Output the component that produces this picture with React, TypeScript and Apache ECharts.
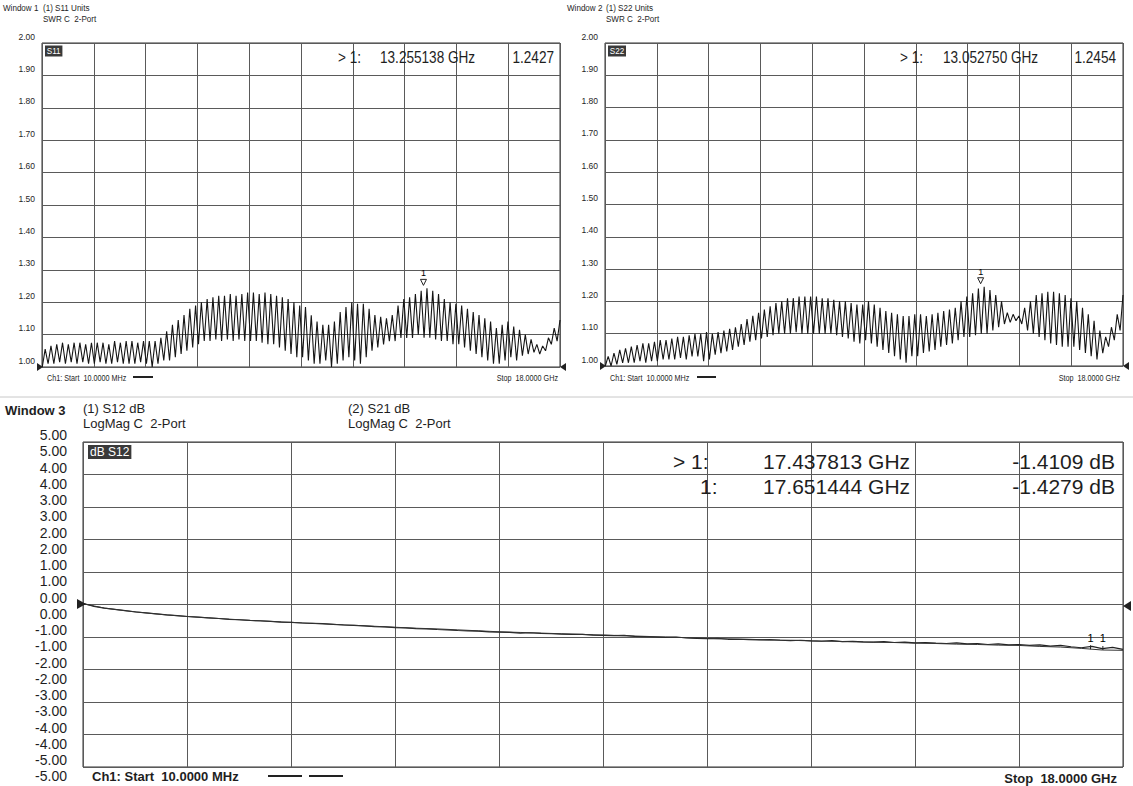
import React, { useEffect, useRef } from "react";
import * as echarts from "echarts";

// ---- Sweep settings (GHz) ----
const START_GHZ = 0.01;
const STOP_GHZ = 18;

// ---- Window 1: S11 SWR, per-cycle peaks and troughs ----
const s11Peaks = [
  1.055, 1.065, 1.07, 1.075, 1.07, 1.075, 1.075, 1.07, 1.075,
  1.075, 1.075, 1.07, 1.08, 1.075, 1.08, 1.08, 1.075, 1.08,
  1.08, 1.08, 1.09, 1.11, 1.13, 1.145, 1.16, 1.18, 1.19,
  1.2, 1.21, 1.215, 1.22, 1.22, 1.225, 1.22, 1.225, 1.23,
  1.23, 1.225, 1.23, 1.225, 1.22, 1.215, 1.21, 1.2, 1.19,
  1.185, 1.16, 1.14, 1.13, 1.13, 1.14, 1.17, 1.185, 1.2,
  1.195, 1.195, 1.18, 1.16, 1.155, 1.15, 1.16, 1.19, 1.21,
  1.215, 1.225, 1.235, 1.243, 1.235, 1.225, 1.21, 1.2, 1.195,
  1.19, 1.18, 1.17, 1.16, 1.15, 1.14, 1.12, 1.13, 1.14,
  1.125, 1.115, 1.1, 1.085, 1.07, 1.065, 1.09, 1.12, 1.145,
];
const s11Troughs = [
  1.0, 1.01, 1.01, 1.015, 1.01, 1.015, 1.01, 1.015, 1.01,
  1.01, 1.015, 1.01, 1.01, 1.015, 1.01, 1.01, 1.01, 1.015,
  1.01, 1.0, 1.01, 1.02, 1.02, 1.03, 1.04, 1.05, 1.06,
  1.07, 1.08, 1.08, 1.085, 1.08, 1.085, 1.08, 1.085, 1.08,
  1.08, 1.08, 1.075, 1.07, 1.07, 1.06, 1.05, 1.04, 1.03,
  1.03, 1.02, 1.01, 1.01, 1.02, 1.0, 1.01, 1.02, 1.03,
  1.02, 1.01, 1.03, 1.05, 1.06, 1.07, 1.08, 1.08, 1.09,
  1.09, 1.09, 1.1, 1.09, 1.09, 1.085, 1.08, 1.08, 1.07,
  1.07, 1.06, 1.05, 1.04, 1.03, 1.02, 1.01, 1.01, 1.02,
  1.03, 1.02, 1.035, 1.04, 1.045, 1.04, 1.05, 1.07, 1.08,
];

// ---- Window 2: S22 SWR ----
const s22Peaks = [
  1.03, 1.04, 1.05, 1.055, 1.06, 1.065, 1.07, 1.07, 1.075,
  1.08, 1.08, 1.085, 1.09, 1.09, 1.095, 1.1, 1.1, 1.105,
  1.1, 1.105, 1.11, 1.115, 1.12, 1.13, 1.145, 1.155, 1.165,
  1.175, 1.185, 1.195, 1.2, 1.21, 1.21, 1.215, 1.215, 1.215,
  1.215, 1.21, 1.21, 1.205, 1.2, 1.2, 1.195, 1.19, 1.19,
  1.2, 1.19, 1.18, 1.17, 1.165, 1.16, 1.155, 1.155, 1.16,
  1.16, 1.155, 1.16, 1.165, 1.17, 1.175, 1.18, 1.2, 1.215,
  1.225, 1.24, 1.245, 1.235, 1.22, 1.2, 1.165, 1.16, 1.155,
  1.18, 1.2, 1.22, 1.225, 1.23, 1.23, 1.225, 1.22, 1.21,
  1.2, 1.18, 1.16, 1.14, 1.11, 1.09, 1.12, 1.16, 1.22,
];
const s22Troughs = [
  1.0, 1.0, 1.005, 1.01, 1.01, 1.01, 1.015, 1.01, 1.015,
  1.015, 1.02, 1.02, 1.02, 1.025, 1.02, 1.03, 1.03, 1.015,
  1.02, 1.035, 1.04, 1.045, 1.05, 1.06, 1.065, 1.075, 1.08,
  1.085, 1.09, 1.095, 1.1, 1.1, 1.1, 1.105, 1.1, 1.1,
  1.1, 1.1, 1.1, 1.1, 1.095, 1.09, 1.085, 1.075, 1.07,
  1.08, 1.07, 1.06, 1.05, 1.04, 1.03, 1.02, 1.01, 1.03,
  1.03, 1.04, 1.045, 1.05, 1.06, 1.065, 1.07, 1.08, 1.09,
  1.09, 1.095, 1.1, 1.1, 1.11, 1.12, 1.13, 1.135, 1.14,
  1.13, 1.11, 1.1, 1.09, 1.08, 1.07, 1.065, 1.06, 1.06,
  1.06, 1.05, 1.04, 1.03, 1.02, 1.04, 1.06, 1.08, 1.11,
];

// ---- Window 3: S12 / S21 LogMag (dB) ----
const s12Db = [
  0.03, -0.06, -0.11, -0.15, -0.19, -0.23, -0.26, -0.29, -0.32, -0.34,
  -0.37, -0.39, -0.41, -0.43, -0.46, -0.47, -0.49, -0.5, -0.52, -0.54,
  -0.55, -0.57, -0.58, -0.59, -0.61, -0.63, -0.64, -0.66, -0.68, -0.69,
  -0.71, -0.72, -0.74, -0.75, -0.77, -0.78, -0.8, -0.81, -0.82, -0.84,
  -0.85, -0.86, -0.88, -0.87, -0.89, -0.9, -0.91, -0.92, -0.92, -0.94,
  -0.95, -0.96, -0.95, -0.98, -0.99, -1.0, -1.01, -1.0, -1.03, -1.04,
  -1.05, -1.04, -1.07, -1.07, -1.08, -1.09, -1.08, -1.1, -1.11, -1.1,
  -1.12, -1.13, -1.11, -1.14, -1.13, -1.15, -1.16, -1.14, -1.17, -1.16,
  -1.18, -1.17, -1.19, -1.2, -1.18, -1.21, -1.2, -1.23, -1.21, -1.24,
  -1.23, -1.26, -1.24, -1.28, -1.26, -1.3, -1.33, -1.29, -1.36, -1.32,
  -1.38,
];
const s21Db = [
  0.02, -0.11, -0.19, -0.26, -0.32, -0.37, -0.41, -0.45, -0.49, -0.52,
  -0.55, -0.58, -0.61, -0.64, -0.67, -0.7, -0.73, -0.75, -0.78, -0.81,
  -0.84, -0.86, -0.88, -0.9, -0.92, -0.94, -0.96, -0.98, -1.0, -1.02,
  -1.04, -1.06, -1.07, -1.09, -1.1, -1.12, -1.13, -1.15, -1.16, -1.17,
  -1.19, -1.2, -1.22, -1.23, -1.25, -1.26, -1.29, -1.31, -1.35, -1.4,
  -1.41,
];

// ---- Markers ----
const s11Marker = [13.255138, 1.2427];
const s22Marker = [13.05275, 1.2454];
const s12Marker = [17.437813, -1.4109];
const s21Marker = [17.651444, -1.4279];

const swrTicks = { min: 1, max: 2, interval: 0.1 };
const dbTicks = { min: -5, max: 5, interval: 1 };

function interleave(troughs: number[], peaks: number[]) {
  const out: number[] = [];
  troughs.forEach((t, i) => {
    out.push(t, peaks[i]);
  });
  return out;
}
function sweep(values: number[]) {
  return values.map((v, i) => [
    START_GHZ + (i * (STOP_GHZ - START_GHZ)) / (values.length - 1),
    v,
  ]);
}

const NARROW = "'Liberation Sans', Arial, sans-serif";
const INK = "#1e1e1e";

function txt(
  text: string,
  x: number,
  y: number,
  size: number,
  opts: any = {}
) {
  return {
    type: "text",
    x,
    y,
    scaleX: opts.scaleX ?? 1,
    z: 10,
    style: {
      text,
      fontSize: size,
      fontFamily: NARROW,
      fontWeight: opts.weight ?? "normal",
      fill: opts.fill ?? INK,
      align: opts.align ?? "left",
      verticalAlign: "middle",
      backgroundColor: opts.bg,
      padding: opts.padding,
    },
  };
}
function tri(points: number[][]) {
  return {
    type: "polygon",
    z: 10,
    shape: { points },
    style: { fill: "#222" },
  };
}

export default function App() {
  const ref = useRef<HTMLDivElement>(null);

  useEffect(() => {
    if (!ref.current) return;
    const chart = echarts.init(ref.current, undefined, { renderer: "svg" });

    const gridLine = { show: true, lineStyle: { color: "#5a5a5a", width: 1 } };
    const xAxisFor = (gridIndex: number) => ({
      type: "value",
      gridIndex,
      min: 0,
      max: STOP_GHZ,
      interval: 1.8,
      axisLabel: { show: false },
      axisTick: { show: false },
      axisLine: { show: false },
      splitLine: gridLine,
    });
    const swrAxis = (gridIndex: number) => ({
      type: "value",
      gridIndex,
      ...swrTicks,
      axisTick: { show: false },
      axisLine: { show: false },
      splitLine: gridLine,
      axisLabel: {
        formatter: (v: number) => v.toFixed(2),
        fontSize: 8.5,
        fontFamily: NARROW,
        color: INK,
        margin: 7,
        verticalAlign: "bottom",
        padding: [0, 0, 2, 0],
      },
    });
    const dbAxis = (upper: boolean) => ({
      type: "value",
      gridIndex: 2,
      position: "left",
      ...dbTicks,
      axisTick: { show: false },
      axisLine: { show: false },
      splitLine: upper ? gridLine : { show: false },
      axisLabel: {
        formatter: (v: number) => v.toFixed(2),
        fontSize: 14,
        fontFamily: NARROW,
        color: INK,
        margin: 16,
        verticalAlign: upper ? "bottom" : "top",
        padding: upper ? [0, 0, 0, 0] : [2, 0, 0, 0],
      },
    });

    const swrMarker = (coord: number[]) => ({
      symbol: "triangle",
      symbolRotate: 180,
      symbolSize: 6,
      symbolOffset: [0, -6],
      itemStyle: { color: "#fff", borderColor: "#222", borderWidth: 1 },
      label: {
        show: true,
        formatter: "1",
        position: "top",
        distance: 1,
        fontSize: 9,
        color: "#000",
        textBorderWidth: 0,
      },
      data: [{ coord }],
    });
    const dbMarker = (coord: number[]) => ({
      symbol: "rect",
      symbolSize: [1, 4],
      symbolOffset: [0, -3],
      itemStyle: { color: "#222" },
      label: {
        show: true,
        formatter: "1",
        position: "top",
        distance: 2,
        fontSize: 11,
        color: "#000",
        textBorderWidth: 0,
      },
      data: [{ coord }],
    });

    const traceStyle = { color: "#151515", width: 1.1 };

    chart.setOption({
      animation: false,
      backgroundColor: "#ffffff",
      grid: [
        { left: 42, top: 43, width: 518, height: 324, show: true, borderColor: "#333", borderWidth: 1 },
        { left: 605, top: 43, width: 518, height: 323, show: true, borderColor: "#333", borderWidth: 1 },
        { left: 83, top: 442, width: 1040, height: 325, show: true, borderColor: "#333", borderWidth: 1 },
      ],
      xAxis: [xAxisFor(0), xAxisFor(1), xAxisFor(2)],
      yAxis: [swrAxis(0), swrAxis(1), dbAxis(true), dbAxis(false)],
      series: [
        {
          name: "S11",
          type: "line",
          xAxisIndex: 0,
          yAxisIndex: 0,
          symbol: "none",
          lineStyle: traceStyle,
          data: sweep(interleave(s11Troughs, s11Peaks)),
          markPoint: swrMarker(s11Marker),
        },
        {
          name: "S22",
          type: "line",
          xAxisIndex: 1,
          yAxisIndex: 1,
          symbol: "none",
          lineStyle: traceStyle,
          data: sweep(interleave(s22Troughs, s22Peaks)),
          markPoint: swrMarker(s22Marker),
        },
        {
          name: "S12",
          type: "line",
          xAxisIndex: 2,
          yAxisIndex: 2,
          symbol: "none",
          lineStyle: { color: "#222", width: 1.2 },
          data: sweep(s12Db),
          markPoint: dbMarker(s12Marker),
        },
        {
          name: "S21",
          type: "line",
          xAxisIndex: 2,
          yAxisIndex: 2,
          symbol: "none",
          lineStyle: { color: "#333", width: 1 },
          data: sweep(s21Db),
          markPoint: dbMarker(s21Marker),
        },
      ],
      graphic: [
        // Window 1 header
        txt("Window 1", 3, 8, 9.5, { scaleX: 0.85 }),
        txt("(1) S11 Units", 43, 8, 9.5, { scaleX: 0.85 }),
        txt("SWR C  2-Port", 43, 19, 9.5, { scaleX: 0.85 }),
        txt("S11", 45, 51, 9, { fill: "#fff", bg: "#3a3a3a", padding: [1, 2], scaleX: 0.9 }),
        txt("> 1:", 338, 58, 16, { scaleX: 0.85 }),
        txt("13.255138 GHz", 380, 58, 16, { scaleX: 0.85 }),
        txt("1.2427", 554, 58, 16, { scaleX: 0.85, align: "right" }),
        txt("Ch1: Start  10.0000 MHz", 47, 378, 8.5, { scaleX: 0.85 }),
        { type: "rect", shape: { x: 133, y: 376, width: 20, height: 2 }, style: { fill: "#222" } },
        txt("Stop  18.0000 GHz", 558, 378, 8.5, { scaleX: 0.85, align: "right" }),
        tri([[37, 363], [43, 367], [37, 371]]),
        tri([[566, 363], [560, 367], [566, 371]]),

        // Window 2 header
        txt("Window 2", 567, 8, 9.5, { scaleX: 0.85 }),
        txt("(1) S22 Units", 606, 8, 9.5, { scaleX: 0.85 }),
        txt("SWR C  2-Port", 606, 19, 9.5, { scaleX: 0.85 }),
        txt("S22", 608, 51, 9, { fill: "#fff", bg: "#3a3a3a", padding: [1, 2], scaleX: 0.9 }),
        txt("> 1:", 900, 58, 16, { scaleX: 0.85 }),
        txt("13.052750 GHz", 943, 58, 16, { scaleX: 0.85 }),
        txt("1.2454", 1116, 58, 16, { scaleX: 0.85, align: "right" }),
        txt("Ch1: Start  10.0000 MHz", 610, 378, 8.5, { scaleX: 0.85 }),
        { type: "rect", shape: { x: 697, y: 376, width: 19, height: 2 }, style: { fill: "#222" } },
        txt("Stop  18.0000 GHz", 1120, 378, 8.5, { scaleX: 0.85, align: "right" }),
        tri([[600, 362], [606, 366], [600, 370]]),
        tri([[1129, 362], [1123, 366], [1129, 370]]),

        // separator
        { type: "line", shape: { x1: 0, y1: 397, x2: 1133, y2: 397 }, style: { stroke: "#c8c8c8", lineWidth: 1 } },

        // Window 3 header
        txt("Window 3", 5, 410, 13, { weight: "bold" }),
        txt("(1) S12 dB", 83, 408, 13),
        txt("LogMag C  2-Port", 83, 423, 13),
        txt("(2) S21 dB", 348, 408, 13),
        txt("LogMag C  2-Port", 348, 423, 13),
        txt("dB S12", 88, 452, 12, { fill: "#fff", bg: "#3a3a3a", padding: [1, 2] }),
        txt("> 1:", 673, 461, 21),
        txt("17.437813 GHz", 763, 461, 21),
        txt("-1.4109 dB", 1115, 461, 21, { align: "right" }),
        txt("1:", 700, 486, 21),
        txt("17.651444 GHz", 763, 486, 21),
        txt("-1.4279 dB", 1115, 486, 21, { align: "right" }),
        txt("Ch1: Start  10.0000 MHz", 92, 776, 13, { weight: "bold" }),
        { type: "rect", shape: { x: 268, y: 775, width: 34, height: 2 }, style: { fill: "#222" } },
        { type: "rect", shape: { x: 309, y: 775, width: 34, height: 2 }, style: { fill: "#222" } },
        txt("Stop  18.0000 GHz", 1117, 778, 13, { weight: "bold", align: "right" }),
        tri([[77, 599], [86, 604], [77, 609]]),
        tri([[1131, 601], [1123, 606], [1131, 611]]),
      ],
    });

    return () => chart.dispose();
  }, []);

  return (
    <div
      ref={ref}
      style={{
        position: "absolute",
        left: 0,
        top: 0,
        width: 1133,
        height: 786,
        background: "#fff",
      }}
    />
  );
}
